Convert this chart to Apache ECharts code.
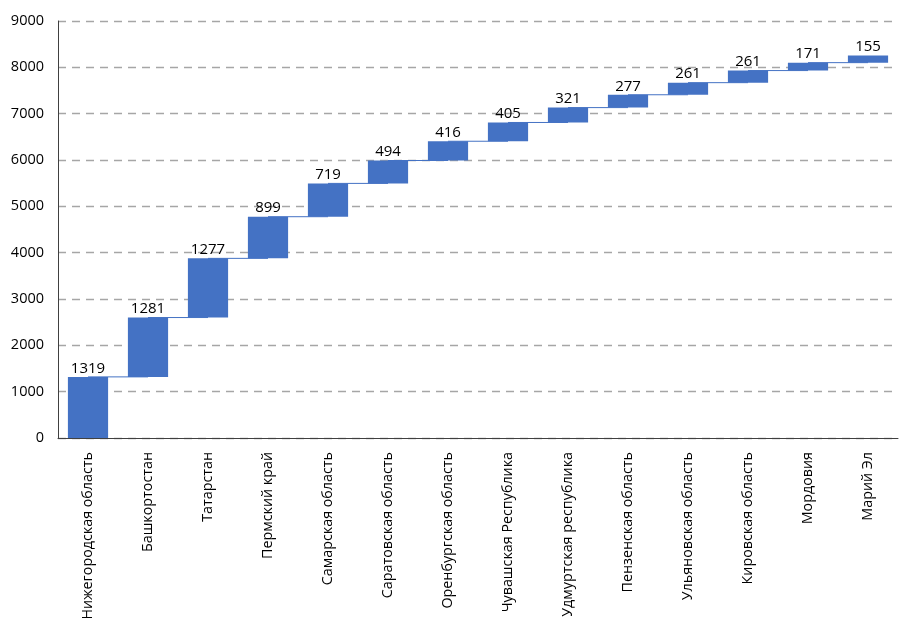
<!DOCTYPE html>
<html><head><meta charset="utf-8">
<script src="https://cdn.jsdelivr.net/npm/echarts@6/dist/echarts.min.js"></script>
<style>html,body{margin:0;padding:0;background:#fff}#c{width:911px;height:633px}</style>
</head><body><div id="c"></div>
<script>
const categories = ["Нижегородская область","Башкортостан","Татарстан","Пермский край","Самарская область","Саратовская область","Оренбургская область","Чувашская Республика","Удмуртская республика","Пензенская область","Ульяновская область","Кировская область","Мордовия","Марий Эл"];
const values = [1319,1281,1277,899,719,494,416,405,321,277,261,261,171,155];
const yTicks = {min:0, max:9000, interval:1000};

const bases = [];
const tops = [];
let acc = 0;
for (const v of values) { bases.push(acc); acc += v; tops.push(acc); }
const connectors = [];
for (let i = 0; i < values.length - 1; i++) connectors.push([i, tops[i]]);

const font = "'Open Sans', sans-serif";
const chart = echarts.init(document.getElementById('c'));
chart.setOption({
  animation:false,
  grid:{left:58,right:13,top:21,bottom:195},
  xAxis:{type:'category',data:categories,
    axisLine:{lineStyle:{color:'#404040',width:1}},
    axisTick:{show:false},
    axisLabel:{rotate:90,color:'#000',fontFamily:font,fontSize:14.3,margin:14,interval:0}},
  yAxis:{type:'value',min:yTicks.min,max:yTicks.max,interval:yTicks.interval,
    axisLine:{show:true,lineStyle:{color:'#404040',width:1}},
    axisTick:{show:false},
    axisLabel:{color:'#000',fontFamily:font,fontSize:14.5,margin:14,formatter:function(v){return String(v);}},
    splitLine:{lineStyle:{color:'#A6A6A6',type:[8,6],width:1.3}}},
  series:[
    {type:'custom',z:1,data:connectors,
      renderItem:function(params,api){
        const i=api.value(0), y=api.value(1);
        const p1=api.coord([i,y]), p2=api.coord([i+1,y]);
        return {type:'line',shape:{x1:p1[0],y1:p1[1],x2:p2[0],y2:p2[1]},style:{stroke:'#4472C4',lineWidth:1}};
      }},
    {type:'bar',stack:'w',data:bases,barWidth:'67%',itemStyle:{color:'transparent'},z:2,silent:true},
    {type:'bar',stack:'w',data:values,barWidth:'67%',itemStyle:{color:'#4472C4'},z:3,
      label:{show:true,position:'top',color:'#000',fontFamily:font,fontSize:15,distance:1}}
  ]
});
</script></body></html>
